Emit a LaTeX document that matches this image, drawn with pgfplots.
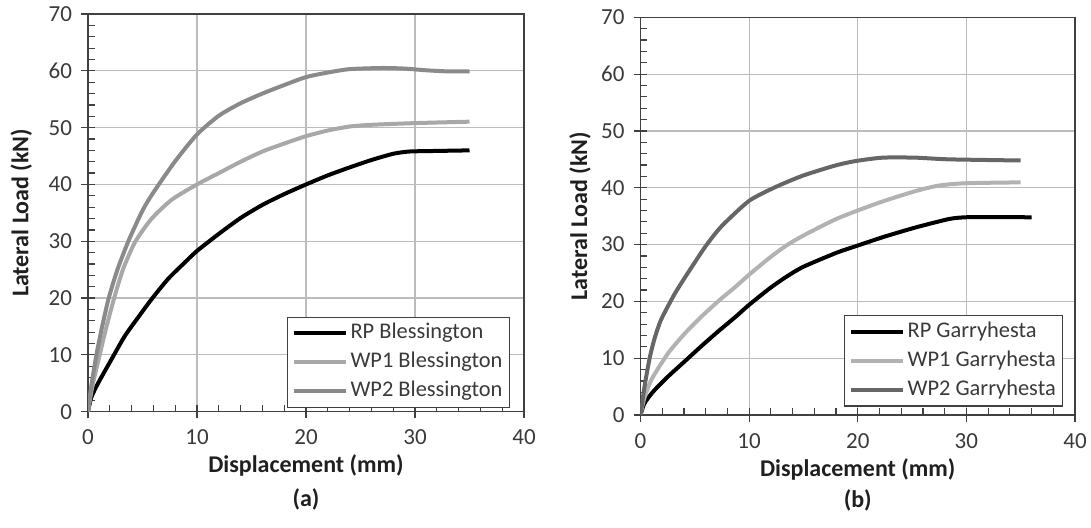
\documentclass[border=0pt]{standalone}
\usepackage{fontspec}
\setmainfont{Carlito}
\usepackage{pgfplots}
\pgfplotsset{compat=1.18}
\definecolor{gridc}{HTML}{BCBCBC}
\definecolor{frame}{HTML}{404040}
\definecolor{txt}{HTML}{3A3A3A}
\definecolor{aWPone}{HTML}{A8A8A8}
\definecolor{aWPtwo}{HTML}{8A8A8A}
\definecolor{bWPone}{HTML}{B2B2B2}
\definecolor{bWPtwo}{HTML}{666666}
\pgfplotsset{
  panel/.style={
    scale only axis, clip mode=individual,
    xmin=0, xmax=40, ymin=0, ymax=70,
    xtick={0,10,20,30,40}, ytick={0,10,20,30,40,50,60,70},
    minor x tick num=4, minor y tick num=4,
    grid=major,
    major grid style={gridc, line width=0.6pt},
    axis line style={frame, line width=0.6pt},
    tick style={frame, line width=0.6pt},
    tick align=inside,
    major tick length=6.6pt, minor tick length=3.3pt,
    major x tick style={yshift=-3.3pt},
    major y tick style={xshift=-3.3pt},
    xtick pos=bottom, ytick pos=left,
    /pgf/number format/assume math mode=true,
    tick label style={font=\fontsize{11.5}{13}\selectfont, text=txt},
    xticklabel style={yshift=-5.5pt},
    yticklabel style={xshift=-4.5pt},
    label style={font=\fontsize{12}{14}\selectfont\bfseries, text=black!88},
    legend cell align=left,
    legend image code/.code={\draw[##1] (0pt,0pt) -- (26pt,0pt);},
    legend style={font=\fontsize{11.2}{13}\selectfont, draw=frame, line width=0.6pt,
      inner xsep=2pt, inner ysep=1.8pt, row sep=2pt,
      nodes={inner xsep=1.5pt, inner ysep=1pt, text height=8pt, text depth=2.5pt, text=txt}},
    every axis plot/.append style={line width=2pt, smooth, tension=0.4},
  }
}
\begin{document}
\begin{tikzpicture}
\useasboundingbox (0pt,0pt) rectangle (545.5pt,263.5pt);
% ---------- (a) Blessington ----------
\begin{axis}[panel,
  at={(44pt,57.65pt)}, anchor=south west,
  width=218pt, height=198.85pt,
  xlabel={Displacement (mm)}, ylabel={Lateral Load (kN)},
  xlabel style={at={(axis description cs:0.5,-0.136)}, anchor=center},
  ylabel style={at={(axis description cs:-0.153,0.5)}, anchor=center},
  legend style={at={(axis description cs:0.968,0.0093)}, anchor=south east},
]
\addplot[black] coordinates {(0,0) (0.3,2.5) (0.92,5) (2.15,9.2) (3.37,13.3) (4.6,16.6) (5.83,19.8) (7.36,23.4) (8.9,26.3) (10,28.3) (12,31.3) (14,34.1) (16,36.4) (18,38.3) (20,40) (22,41.6) (24,43) (26,44.3) (28,45.4) (29.5,45.8) (32,45.9) (35,46)};
\addlegendentry{RP Blessington}
\addplot[aWPone] coordinates {(0,0) (0.4,4.5) (1.07,10) (1.7,15) (2.4,20) (3.2,25) (4.3,29.8) (5.8,33.9) (7.67,37.3) (10,40) (12,42) (14,44) (16,45.8) (18,47.2) (20,48.5) (22,49.5) (24,50.2) (26,50.5) (30,50.8) (35,51.05)};
\addlegendentry{WP1 Blessington}
\addplot[aWPtwo] coordinates {(0,0) (0.3,4.5) (0.77,10) (1.3,15) (1.9,20) (2.7,25) (3.7,30) (5,35.4) (6,38.6) (8,44.1) (10,48.8) (12,52.1) (14,54.3) (16,56) (18,57.5) (20,58.9) (22,59.7) (24,60.3) (27,60.5) (29,60.4) (31,60.1) (33,59.9) (35,59.9)};
\addlegendentry{WP2 Blessington}
\node[font=\fontsize{12}{14}\selectfont\bfseries, text=black!88] at (axis description cs:0.5,-0.221) {(a)};
\end{axis}
% ---------- (b) Garryhesta ----------
\begin{axis}[panel,
  at={(320.25pt,56pt)}, anchor=south west,
  width=217.25pt, height=198.85pt,
  xlabel={Displacement (mm)}, ylabel={Lateral Load (kN)},
  xlabel style={at={(axis description cs:0.5,-0.136)}, anchor=center},
  ylabel style={at={(axis description cs:-0.139,0.5)}, anchor=center},
  legend style={at={(axis description cs:0.973,0.021)}, anchor=south east},
]
\addplot[black] coordinates {(0,0) (0.3,1.8) (0.7,3) (1.3,4.4) (2.55,6.8) (4.1,9.5) (5.65,12.2) (7.2,14.8) (8.76,17.3) (10,19.4) (11.9,22.3) (13.4,24.3) (15,26.1) (18.1,28.6) (19.8,29.7) (22.3,31.3) (25.3,33) (28.4,34.5) (29.9,34.8) (32,34.85) (36,34.8)};
\addlegendentry{RP Garryhesta}
\addplot[bWPone] coordinates {(0,0) (0.3,2.6) (1,6.2) (2.55,10.9) (4.1,14.4) (5.65,17.4) (7.2,20.1) (8.76,22.6) (10,24.7) (11.9,27.7) (13.4,29.8) (15,31.6) (17.9,34.4) (20,36) (22.3,37.6) (25.3,39.4) (27.5,40.4) (30,40.8) (35,40.95)};
\addlegendentry{WP1 Garryhesta}
\addplot[bWPtwo] coordinates {(0,0) (0.37,5) (0.84,10) (1.3,13.5) (1.9,16.8) (3.2,21.5) (4.7,26) (6.1,30) (7.5,33.3) (10,37.7) (12.4,40.1) (14.9,42.1) (17.9,43.9) (19.8,44.7) (22.3,45.3) (25.3,45.3) (28.4,45) (35,44.8)};
\addlegendentry{WP2 Garryhesta}
\node[font=\fontsize{12}{14}\selectfont\bfseries, text=black!88] at (axis description cs:0.5,-0.214) {(b)};
\end{axis}
\end{tikzpicture}
\end{document}
